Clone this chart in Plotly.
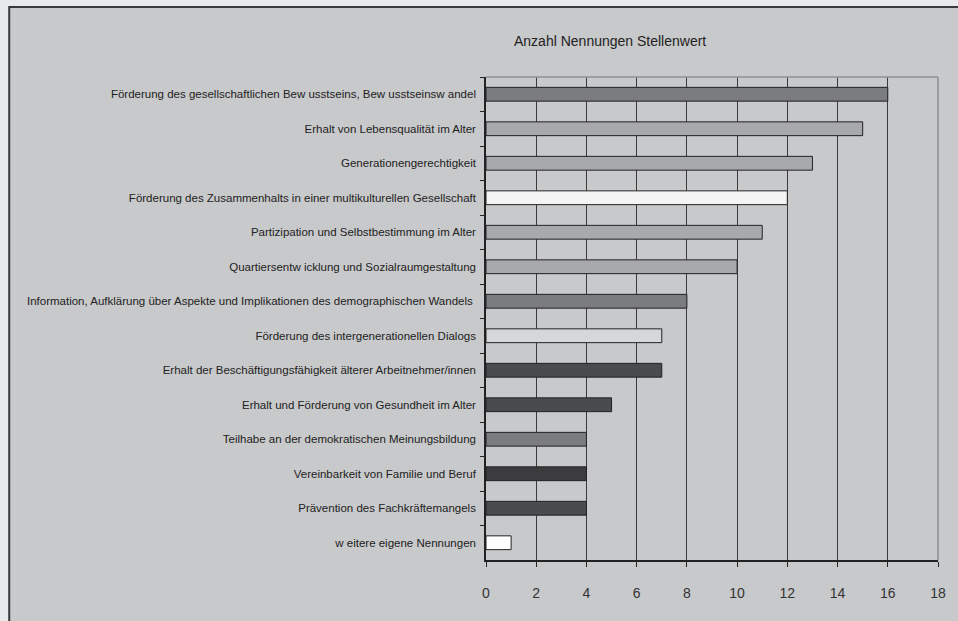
import plotly.graph_objects as go

categories = [
    "Förderung des gesellschaftlichen Bew usstseins, Bew usstseinsw andel",
    "Erhalt von Lebensqualität im Alter",
    "Generationengerechtigkeit",
    "Förderung des Zusammenhalts in einer multikulturellen Gesellschaft",
    "Partizipation und Selbstbestimmung im Alter",
    "Quartiersentw icklung und Sozialraumgestaltung",
    "Information, Aufklärung über Aspekte und Implikationen des demographischen Wandels\u00a0",
    "Förderung des intergenerationellen Dialogs",
    "Erhalt der Beschäftigungsfähigkeit älterer Arbeitnehmer/innen",
    "Erhalt und Förderung von Gesundheit im Alter",
    "Teilhabe an der demokratischen Meinungsbildung",
    "Vereinbarkeit von Familie und Beruf",
    "Prävention des Fachkräftemangels",
    "w eitere eigene Nennungen",
]
values = [16, 15, 13, 12, 11, 10, 8, 7, 7, 5, 4, 4, 4, 1]
bar_colors = ["#7b7c80", "#a8a9ad", "#a8a9ad", "#f4f4f4", "#a8a9ad", "#a8a9ad", "#7b7c80",
              "#d6d7d9", "#4a4b4e", "#4a4b4e", "#7b7c80", "#3c3c3e", "#4a4b4e", "#ffffff"]
x_ticks = [0, 2, 4, 6, 8, 10, 12, 14, 16, 18]
title = "Anzahl Nennungen Stellenwert"

W, H = 958, 621
L, R, T, B = 486, 942, 77, 560

fig = go.Figure(go.Bar(
    x=values, y=categories, orientation="h", width=0.4,
    marker=dict(color=bar_colors, line=dict(color="#222222", width=1)),
))

def px_x(p):
    return (p - L) / (R - L)

def px_y(p):
    return (B - p) / (B - T)

shapes = [
    dict(type="rect", xref="paper", yref="paper", layer="below",
         x0=px_x(5), x1=px_x(966), y0=px_y(630), y1=px_y(7),
         fillcolor="#c8c9cb", line=dict(color="#3a3a3c", width=2)),
    dict(type="line", xref="paper", yref="paper", x0=0, x1=1, y0=1, y1=1,
         line=dict(color="#8e8f92", width=1.5)),
    dict(type="line", xref="paper", yref="paper", x0=1, x1=1, y0=0, y1=1,
         line=dict(color="#8e8f92", width=1.5)),
]

fig.update_layout(
    width=W, height=H,
    margin=dict(l=L, r=W - R, t=T, b=H - B, pad=0),
    paper_bgcolor="#e8e9eb",
    plot_bgcolor="#c8c9cb",
    showlegend=False,
    bargap=0.6,
    shapes=shapes,
    annotations=[dict(text=title, xref="paper", yref="paper",
                      x=px_x(611), y=px_y(41), xanchor="center", yanchor="middle",
                      showarrow=False,
                      font=dict(family="Liberation Sans", size=14, color="#222222"))],
    xaxis=dict(range=[0, 18], tickvals=x_ticks, ticktext=[str(v) for v in x_ticks],
               showgrid=True, gridcolor="#3a3a3a", gridwidth=1,
               showline=True, linecolor="#222222", linewidth=1.5,
               ticks="outside", ticklen=5, tickcolor="#222222", tickwidth=1,
               ticklabelstandoff=14,
               tickfont=dict(family="Liberation Sans", size=14, color="#333333"),
               zeroline=False, fixedrange=True),
    yaxis=dict(categoryorder="array", categoryarray=categories, autorange="reversed",
               showgrid=False, showline=True, linecolor="#222222", linewidth=1.5,
               ticks="outside", ticklen=4, tickcolor="#222222", tickson="boundaries",
               ticklabelstandoff=6,
               tickfont=dict(family="Liberation Sans", size=11.5, color="#222222"),
               fixedrange=True),
)

fig.write_html("out.html", config={"displayModeBar": False},
               post_script="document.body.style.margin='0';document.body.style.overflow='hidden';")
